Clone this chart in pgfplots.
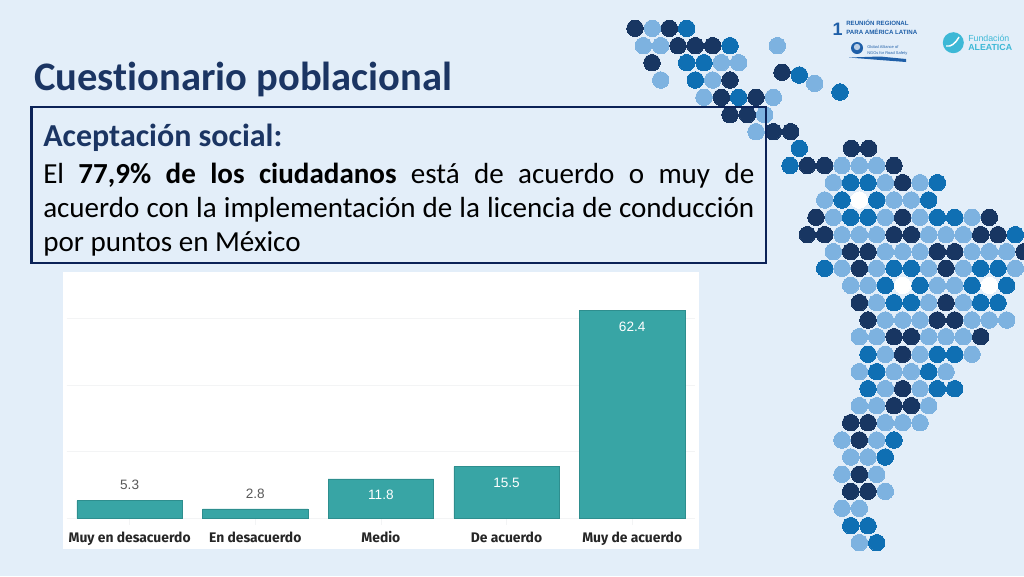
\documentclass[border=0pt]{standalone}
\usepackage{pgfplots}
\pgfplotsset{compat=1.18}
\usepackage{fontspec}
\setmainfont[Ligatures=NoCommon]{Carlito}
\newfontfamily\lib{Liberation Sans}
\newfontfamily\fira{Fira Sans}
\definecolor{bgc}{HTML}{E3EEF9}
\definecolor{navy}{HTML}{1B3563}
\definecolor{boxc}{HTML}{0B2257}
\definecolor{dotD}{HTML}{183662}
\definecolor{dotM}{HTML}{0F6FB3}
\definecolor{dotL}{HTML}{7DB2E0}
\definecolor{teal}{HTML}{38A5A5}
\definecolor{tealE}{HTML}{2E8E8E}
\definecolor{gridc}{HTML}{F3F4F5}
\definecolor{logoB}{HTML}{1F5FA8}
\definecolor{logoT}{HTML}{3DB8D6}
\pgfplotsset{dotstyle/.style={only marks,color=#1,mark=*,mark size=6.2pt,line width=0pt,mark options={fill=#1,draw=#1,line width=0pt}}}
\begin{document}
\begin{tikzpicture}[x=0.75pt,y=-0.75pt]
\fill[bgc] (0,0) rectangle (1024,576);
% dotted map of Latin America
\begin{axis}[at={(0pt,-432pt)},anchor=south west,scale only axis,width=768pt,height=432pt,
  xmin=0,xmax=1024,ymin=0,ymax=576,y dir=reverse,hide axis,clip=true]
\addplot[dotstyle=dotD] coordinates {
(635,28.3)(669.3,28.3)
(678,45.7)(695.3,45.7)(712.7,45.7)
(652,62.7)
(730,80)(782,72.3)
(721.3,97.3)(756,97.3)
(730,114.7)(747.3,114.7)
(773.3,131.7)(790.7,131.7)
(851.3,148.3)(868.7,148.3)
(807.3,165.5)(824.7,165.5)(894,165.5)
(902.7,182.7)
(816,217.3)(902.7,217.3)(989.3,217.3)
(807.3,234.7)(824.7,234.7)(894,234.7)(911.3,234.7)(980.7,234.7)(998,234.7)
(850.7,251.7)(868,251.7)(937.3,251.7)(954.7,251.7)(1024,251.7)
(859.3,268.3)(946,268.3)
(859.3,302.7)(946,302.7)
(868,320)(937.3,320)(954.7,320)
(894,336.7)(911.3,336.7)(980.7,336.7)
(902.7,354.3)
(902.7,388.7)
(894,405.7)(911.3,405.7)
(850.7,422.7)(868,422.7)
(859.3,440)
(859.3,474.3)
(850.7,491.3)(868,491.3)
};
\addplot[dotstyle=dotM] coordinates {
(686.7,28.3)
(730,45.7)
(686.7,62.7)(704,62.7)
(695.3,80)(799.3,75)(840,92)
(738.7,97.3)
(799.3,148.3)
(790,165.5)
(850.7,182.7)(868,182.7)(937.3,182.7)
(842,200)(876.7,200)(928.7,200)
(850.7,217.3)(868,217.3)(937.3,217.3)(954.7,217.3)
(1015.3,234.7)
(824.7,268.3)(894,268.3)(911.3,268.3)(980.7,268.3)(998,268.3)
(885.3,285.3)(920,285.3)(972,285.3)(1006.7,285.3)
(894,302.7)(911.3,302.7)(980.7,302.7)(998,302.7)
(868,354.3)(937.3,354.3)(954.7,354.3)
(876.7,371.7)(928.7,371.7)
(868,388.7)(937.3,388.7)(954.7,388.7)
(894,440)
(885.3,457)
(850.7,525.7)(868,525.7)
(876.7,542.7)
};
\addplot[dotstyle=dotL] coordinates {
(652.3,28.3)
(643.3,45.7)(660.7,45.7)(777.3,45.7)
(721.3,62.7)(738.7,62.7)
(660.7,80)(712.7,80)(814.7,83.3)
(704,97.3)(773.3,97.3)
(764.7,114.7)
(756,131.7)
(842,165.5)(859.3,165.5)(876.7,165.5)
(833.3,182.7)(885.3,182.7)(920,182.7)
(824.7,200)(894,200)(911.3,200)
(833.3,217.3)(885.3,217.3)(920,217.3)(972,217.3)
(842,234.7)(859.3,234.7)(876.7,234.7)(928.7,234.7)(946,234.7)(963.3,234.7)
(833.3,251.7)(885.3,251.7)(902.7,251.7)(920,251.7)(972,251.7)(989.3,251.7)(1006.7,251.7)
(842,268.3)(876.7,268.3)(928.7,268.3)(963.3,268.3)(1015.3,268.3)
(850.7,285.3)(868,285.3)(937.3,285.3)(954.7,285.3)
(876.7,302.7)(928.7,302.7)(963.3,302.7)
(885.3,320)(902.7,320)(920,320)(972,320)(989.3,320)(1006.7,320)
(859.3,336.7)(876.7,336.7)(928.7,336.7)(946,336.7)(963.3,336.7)
(885.3,354.3)(920,354.3)(972,354.3)
(859.3,371.7)(894,371.7)(911.3,371.7)(946,371.7)
(885.3,388.7)(920,388.7)
(859.3,405.7)(876.7,405.7)(928.7,405.7)
(885.3,422.7)(902.7,422.7)(920,422.7)
(842,440)(876.7,440)
(850.7,457)(868,457)
(842,474.3)(876.7,474.3)
(885.3,491.3)
(842,508.3)(859.3,508.3)
(859.3,542.7)
};
\addplot[dotstyle=white] coordinates {
(859.3,200)(902.7,285.3)(989.3,285.3)
};
\end{axis}
% title and text box
\node[anchor=base west,inner sep=0pt,text=navy,font={\fontsize{30.4}{35}\selectfont\bfseries}] at (34,90.7) {Cuestionario poblacional};
\draw[boxc,line width=2.2pt] (31.5,107) rectangle (766,263);
\node[anchor=base west,inner sep=0pt,text=navy,font={\fontsize{24}{28}\selectfont\bfseries}] at (43,146.7) {Aceptación social:};
\node[anchor=base west,inner sep=0pt,text=black,font={\fontsize{21.8}{26}\selectfont}] at (43,183.3) {\makebox[533.25pt][s]{El \textbf{77,9\% de los ciudadanos} está de acuerdo o muy de}};
\node[anchor=base west,inner sep=0pt,text=black,font={\fontsize{21.8}{26}\selectfont}] at (43,217) {\makebox[533.25pt][s]{acuerdo con la implementación de la licencia de conducción}};
\node[anchor=base west,inner sep=0pt,text=black,font={\fontsize{21.8}{26}\selectfont}] at (43,251.7) {por puntos en México};
% logos
\node[anchor=base,inner sep=0pt,text=logoB,font={\lib\fontsize{13.5}{14}\selectfont\bfseries}] at (837.5,35.5) {1};
\node[anchor=base west,inner sep=0pt,text=logoB,font={\lib\fontsize{4.6}{5}\selectfont\bfseries}] at (846,25.7) {REUNIÓN REGIONAL};
\node[anchor=base west,inner sep=0pt,text=logoB,font={\lib\fontsize{4.6}{5}\selectfont\bfseries}] at (846,34.5) {PARA AMÉRICA LATINA};
\fill[logoB] (857,48) circle (6);
\fill[white!70!logoB] (857,47) circle (3.2);
\node[anchor=base west,inner sep=0pt,text=logoB,font={\lib\fontsize{3}{3}\selectfont}] at (867,48) {Global Alliance of};
\node[anchor=base west,inner sep=0pt,text=logoB,font={\lib\fontsize{3}{3}\selectfont}] at (867,54) {NGOs for Road Safety};
\fill[logoB] (849,57.5) -- (880,56.5) -- (906,59) -- (906,62) -- (880,60) -- cycle;
\fill[logoT] (953.3,42.7) circle (10.5);
\draw[white,line width=1.1pt] (946,46) .. controls (951,47) and (955,44) .. (959,37);
\node[anchor=base west,inner sep=0pt,text=logoT,font={\lib\fontsize{6.6}{7}\selectfont}] at (968,41) {Fundación};
\node[anchor=base west,inner sep=0pt,text=logoT,font={\lib\fontsize{6.6}{8}\selectfont\bfseries}] at (968,50.5) {ALEATICA};
% chart
\fill[white] (62.6,271.7) rectangle (699.4,549);
\begin{axis}[at={(50.1pt,-388.7pt)},anchor=south west,scale only axis,
  width=471.15pt,height=184pt,
  xmin=-0.5,xmax=4.5,ymin=0,ymax=73.7,
  axis line style={draw=none},
  xtick={0,1,2,3,4},
  xticklabels={Muy en desacuerdo,En desacuerdo,Medio,De acuerdo,Muy de acuerdo},
  xtick pos=bottom,
  x tick style={color=gridc,line width=0.6pt},
  major tick length=5pt,
  ytick={0,20,40,60},yticklabels={},
  y tick style={draw=none},
  ymajorgrids,grid style={color=gridc,line width=0.75pt},
  xticklabel style={font={\fira\bfseries\fontsize{10.4}{12}\selectfont},text=black!85,anchor=base,yshift=-13pt},
  ybar,bar width=79pt,bar shift=0pt,
  /pgf/number format/assume math mode=true,
  /pgf/number format/fixed,/pgf/number format/precision=1,/pgf/number format/fixed zerofill,
  clip=false]
\addplot[fill=teal,draw=tealE,line width=0.4pt,
  nodes near coords,
  nodes near coords style={anchor=center,yshift=11.7pt,inner sep=0pt,text=black!65,font={\lib\fontsize{10.2}{12}\selectfont}}]
  coordinates {(0,5.3)(1,2.8)};
\addplot[fill=teal,draw=tealE,line width=0.4pt,
  nodes near coords,
  nodes near coords style={anchor=center,yshift=-12pt,inner sep=0pt,text=white,font={\lib\fontsize{10.2}{12}\selectfont}}]
  coordinates {(2,11.8)(3,15.5)(4,62.4)};
\end{axis}
\pgfresetboundingbox
\path[use as bounding box] (0,0) rectangle (1024,576);
\end{tikzpicture}
\end{document}
